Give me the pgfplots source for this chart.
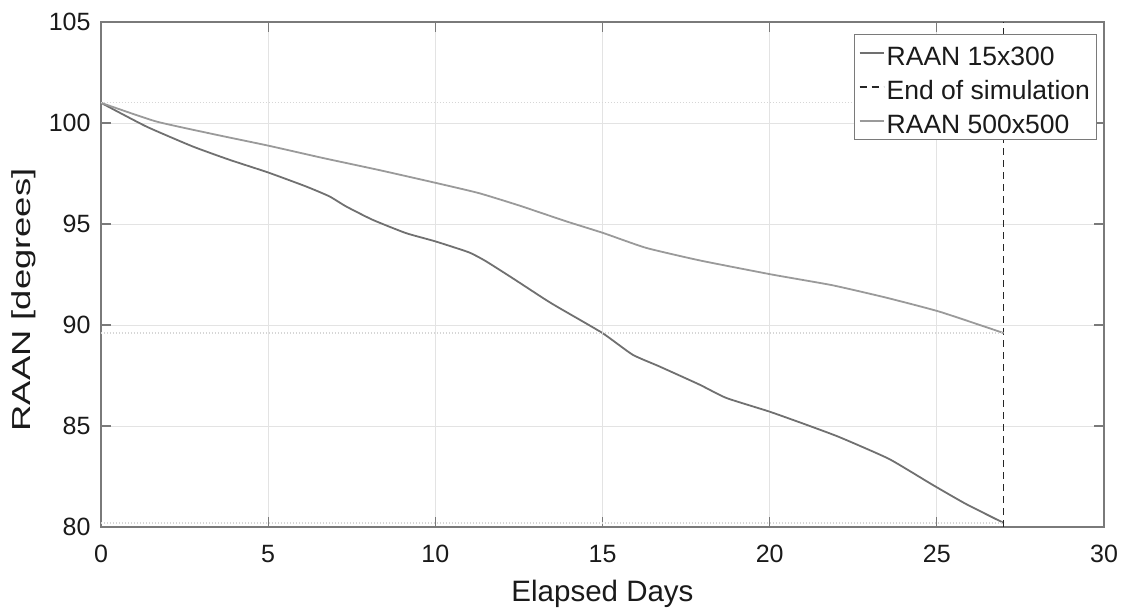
\documentclass[border=0pt]{standalone}
\usepackage{fontspec}
\setmainfont{Liberation Sans}
\usepackage{pgfplots}
\pgfplotsset{compat=1.18}
\definecolor{lowc}{HTML}{707070}
\definecolor{upc}{HTML}{9A9A9A}
\definecolor{gridc}{HTML}{E3E3E3}
\definecolor{axc}{HTML}{7A7A7A}
\definecolor{txt}{HTML}{1A1A1A}
\definecolor{dotc}{HTML}{D6D6D6}
\begin{document}
\begin{tikzpicture}
\begin{axis}[
  scale only axis,
  width=1003bp, height=505bp,
  xmin=0, xmax=30, ymin=80, ymax=105,
  xtick={0,5,...,30}, ytick={80,85,...,105},
  minor tick num=0,
  tick align=inside, tick pos=both,
  major tick length=10bp,
  axis line style={axc, line width=1.2bp},
  every tick/.style={axc, line width=1.2bp},
  grid=major,
  major grid style={gridc, line width=0.9bp},
  /pgf/number format/assume math mode=true,
  ticklabel style={font=\fontsize{25bp}{30bp}\selectfont, text=txt},
  xticklabel style={yshift=-15bp},
  yticklabel style={xshift=-7bp},
  xlabel={Elapsed Days},
  ylabel={\scalebox{1.4}[1]{RAAN [degrees]}},
  xlabel style={font=\fontsize{29.5bp}{36bp}\selectfont, text=txt, at={(axis description cs:0.5,-0.1475)}, anchor=base},
  ylabel style={font=\fontsize{26bp}{31bp}\selectfont, text=txt, at={(axis description cs:-0.0768,0.4495)}, anchor=center, rotate=0},
  legend style={at={(axis description cs:0.993,0.976)}, anchor=north east,
    font=\fontsize{26.5bp}{30bp}\selectfont, text=txt, draw=axc, line width=1bp,
    fill=white, inner xsep=4bp, inner ysep=1.5bp, row sep=0bp,
    nodes={inner xsep=2.5bp, inner ysep=0bp, text height=29bp, text depth=5bp}},
  legend cell align=left,
  legend image code/.code={\draw[#1, line width=1.3bp] (0bp,0bp) -- (24bp,0bp);},
  clip=false,
]
\addplot[lowc, line width=1.8bp, smooth, tension=0.3] coordinates {
(0,101.0) (1.35,99.83) (2.74,98.84) (3.84,98.18) (5.0,97.55) (6.13,96.86)
(6.83,96.37) (7.33,95.87) (8.12,95.21) (9.12,94.55) (10.0,94.14) (11.0,93.6)
(11.5,93.17) (12.3,92.33) (13.3,91.25) (13.71,90.84) (15.0,89.6) (15.9,88.53)
(16.7,87.95) (17.9,87.05) (18.7,86.39) (19.98,85.72) (21.0,85.12)
(22.07,84.46) (23.57,83.37) (24.86,82.10) (25.86,81.15) (27.0,80.2)
};
\addlegendentry{RAAN 15x300}
\addplot[black!85, line width=1.5bp, dash pattern=on 7bp off 5bp] coordinates {(27,80) (27,105)};
\addlegendentry{End of simulation}
\addplot[upc, line width=1.8bp, smooth, tension=0.3] coordinates {
(0,101.0) (1.64,100.08) (3.44,99.42) (5.0,98.88) (6.63,98.27) (8.32,97.67)
(10.0,97.04) (11.3,96.53) (12.5,95.92) (13.9,95.14) (15.03,94.55) (16.3,93.82) (17.9,93.2)
(20.06,92.5) (21.87,91.97) (23.47,91.36) (25.08,90.66) (27.0,89.6)
};
\addlegendentry{RAAN 500x500}
\addplot[dotc, line width=1.2bp, dash pattern=on 1.5bp off 1.5bp, forget plot] coordinates {(0,101) (27,101)};
\addplot[dotc, line width=1.2bp, dash pattern=on 1.5bp off 1.5bp, forget plot] coordinates {(0,89.6) (27,89.6)};
\addplot[dotc, line width=1.2bp, dash pattern=on 1.5bp off 1.5bp, forget plot] coordinates {(0,80.2) (27,80.2)};
\end{axis}
\pgfresetboundingbox
\path (-101bp,-81bp) rectangle (1028bp,527bp);
\end{tikzpicture}
\end{document}
